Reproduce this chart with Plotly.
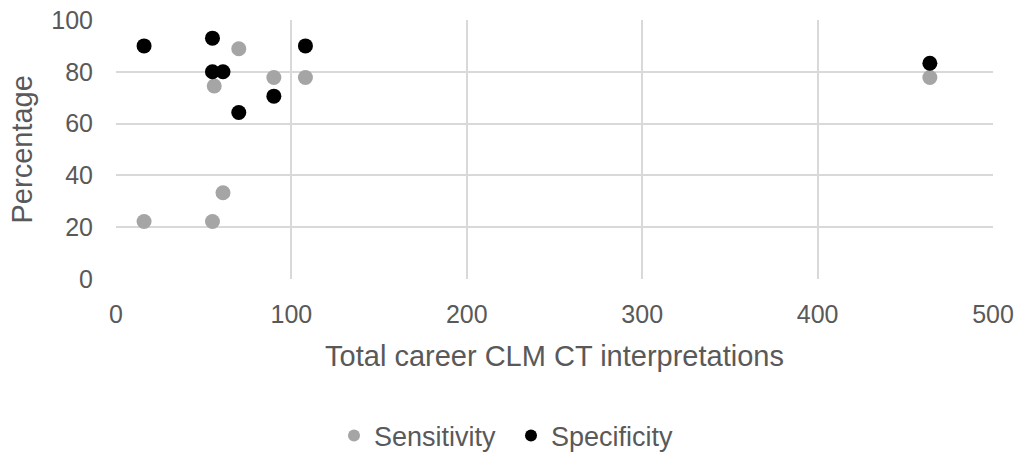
import plotly.graph_objects as go

sens_x = [16, 55, 56, 61, 70, 90, 108, 464]
sens_y = [22.2, 22.2, 74.5, 33.3, 88.9, 77.8, 77.8, 77.8]
spec_x = [16, 55, 55, 61, 70, 90, 108, 464]
spec_y = [90, 93, 80, 80, 64.3, 70.6, 90, 83.3]

font_family = "Liberation Sans, Arial, sans-serif"
text_color = "#595959"
grid_color = "#d9d9d9"

fig = go.Figure()
fig.add_trace(go.Scatter(x=sens_x, y=sens_y, mode="markers", name="Sensitivity",
                         marker=dict(color="#a5a5a5", size=15)))
fig.add_trace(go.Scatter(x=spec_x, y=spec_y, mode="markers", name="Specificity",
                         marker=dict(color="#000000", size=15)))

fig.update_layout(
    width=1022, height=453,
    margin=dict(l=116, r=29, t=20, b=174, autoexpand=False),
    paper_bgcolor="white", plot_bgcolor="white",
    font=dict(family=font_family, color=text_color, size=25),
    showlegend=True,
    legend=dict(orientation="h", xref="container", x=0.5, xanchor="center",
                y=-0.606, yanchor="middle",
                font=dict(size=27), itemsizing="constant", itemwidth=30,
                entrywidth=132, tracegroupgap=0),
    annotations=[dict(text="Percentage", textangle=-90, xref="paper", yref="paper",
                      x=-0.1072, y=0.5, xanchor="center", yanchor="middle",
                      showarrow=False, font=dict(size=29, color=text_color))],
)
fig.update_xaxes(range=[0, 500], dtick=100, showgrid=True, gridcolor=grid_color, gridwidth=1.5,
                 zeroline=False, showline=False, ticks="", ticklabelstandoff=18, automargin=False,
                 ticklabeloverflow="allow",
                 title=dict(text="Total career CLM CT interpretations", standoff=18, font=dict(size=29)),
                 tickfont=dict(size=25))
fig.update_yaxes(range=[0, 100], dtick=20, showgrid=True, gridcolor=grid_color, gridwidth=1.5,
                 zeroline=False, showline=False, ticks="", ticklabelstandoff=22, automargin=False,
                 ticklabeloverflow="allow",
                 tickfont=dict(size=25))

fig.write_html("out.html", config={"displayModeBar": False},
               post_script="document.body.style.margin='0';document.body.style.overflow='hidden';")
